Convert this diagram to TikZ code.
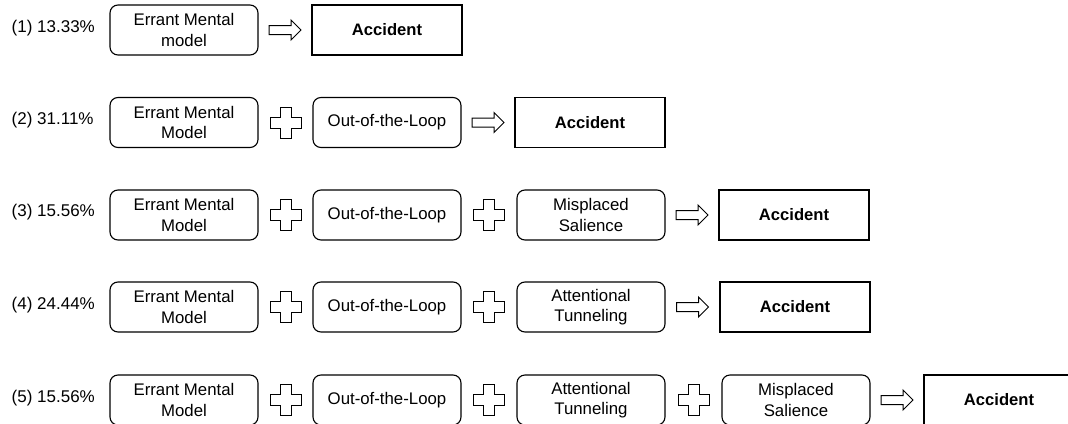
\documentclass[tikz,border=0pt]{standalone}
\usepackage{fontspec}
\setmainfont{Liberation Sans}
\usetikzlibrary{calc}
\tikzset{
  box/.style={draw, rounded corners=8pt, line width=1.1pt, minimum width=148pt, minimum height=50pt, align=center, inner sep=0pt, font=\fontsize{16.8}{20.5}\selectfont},
  accbox/.style={draw, line width=1.1pt, minimum width=150pt, minimum height=50pt, inner sep=0pt, font=\fontsize{16.6}{20}\selectfont\bfseries},
  rowlabel/.style={anchor=west, inner sep=0pt, font=\fontsize{17}{20}\selectfont},
  plussign/.pic={\draw[line width=1pt] (-5.5,-15.5) -- (5.5,-15.5) -- (5.5,-5.5) -- (15.5,-5.5) -- (15.5,5.5) -- (5.5,5.5) -- (5.5,15.5) -- (-5.5,15.5) -- (-5.5,5.5) -- (-15.5,5.5) -- (-15.5,-5.5) -- (-5.5,-5.5) -- cycle;},
  blockarrow/.pic={\draw[line width=1pt] (-16,-4.5) -- (6,-4.5) -- (6,-10) -- (16,0) -- (6,10) -- (6,4.5) -- (-16,4.5) -- cycle;}
}
\begin{document}
\begin{tikzpicture}[x=1pt, y=-1pt]
\useasboundingbox (0,0) rectangle (1068,423);
\clip (0,0) rectangle (1068,423);
% Row 1
\node[rowlabel] (l1) at (11.5,28) {(1) 13.33\%};
\node[box] (a1) at (184,30) {Errant Mental\\model};
\node[accbox] (r1) at (387,30) {Accident};
\pic at ($(a1.east)!0.5!(r1.west)$) {blockarrow};
% Row 2
\node[rowlabel] (l2) at (11.5,120) {(2) 31.11\%};
\node[box] (a2) at (184,122.5) {Errant Mental\\Model};
\node[box] (b2) at (387,122.5) {Out-of-the-Loop};
\node[accbox] (r2) at (590,122.5) {Accident};
\pic at ($(a2.east)!0.5!(b2.west)$) {plussign};
\pic at ($(b2.east)!0.5!(r2.west)$) {blockarrow};
% Row 3
\node[rowlabel] (l3) at (11.5,212.5) {(3) 15.56\%};
\node[box] (a3) at (184,215) {Errant Mental\\Model};
\node[box] (b3) at (387,215) {Out-of-the-Loop};
\node[box] (c3) at (591,215) {Misplaced\\Salience};
\node[accbox] (r3) at (794,215) {Accident};
\pic at ($(a3.east)!0.5!(b3.west)$) {plussign};
\pic at ($(b3.east)!0.5!(c3.west)$) {plussign};
\pic at ($(c3.east)!0.5!(r3.west)$) {blockarrow};
% Row 4
\node[rowlabel] (l4) at (11.5,305) {(4) 24.44\%};
\node[box] (a4) at (184,307) {Errant Mental\\Model};
\node[box] (b4) at (387,307) {Out-of-the-Loop};
\node[box] (c4) at (591,307) {Attentional\\Tunneling};
\node[accbox] (r4) at (795,307) {Accident};
\pic at ($(a4.east)!0.5!(b4.west)$) {plussign};
\pic at ($(b4.east)!0.5!(c4.west)$) {plussign};
\pic at ($(c4.east)!0.5!(r4.west)$) {blockarrow};
% Row 5
\node[rowlabel] (l5) at (11.5,398) {(5) 15.56\%};
\node[box] (a5) at (184,400) {Errant Mental\\Model};
\node[box] (b5) at (387,400) {Out-of-the-Loop};
\node[box] (c5) at (591,400) {Attentional\\Tunneling};
\node[box] (d5) at (796,400) {Misplaced\\Salience};
\node[accbox] (r5) at (999,400) {Accident};
\pic at ($(a5.east)!0.5!(b5.west)$) {plussign};
\pic at ($(b5.east)!0.5!(c5.west)$) {plussign};
\pic at ($(c5.east)!0.5!(d5.west)$) {plussign};
\pic at ($(d5.east)!0.5!(r5.west)$) {blockarrow};
\end{tikzpicture}
\end{document}
